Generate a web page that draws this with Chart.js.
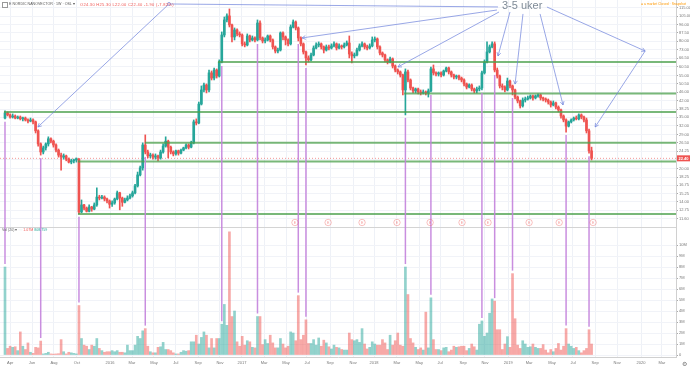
<!DOCTYPE html>
<html>
<head>
<meta charset="utf-8">
<script src="https://cdn.jsdelivr.net/npm/chart.js@4/dist/chart.umd.min.js"></script>
<style>
  html, body { margin: 0; padding: 0; background: #fff; }
  #wrap { position: relative; width: 690px; height: 369px; overflow: hidden; }
  canvas { display: block; }
  .t { position: absolute; font-family: "Liberation Sans", Arial, sans-serif; white-space: nowrap; line-height: 1; }
</style>
</head>
<body>
<div id="wrap">
  <canvas id="chart" width="690" height="369"></canvas>
  <div class="t" style="left:2px;top:2px;width:4px;height:4px;border:0.5px solid #999;"></div>
  <div class="t" id="hdr" style="left:9px;top:2.5px;font-size:3.6px;color:#555;">E NORDIC NANOVECTOR · 1W · OSL ▾</div>
  <div class="t" id="ohlc" style="left:80px;top:2.5px;font-size:4px;color:#ef5350;letter-spacing:0.3px;"></div>
  <div class="t" style="left:641px;top:3px;font-size:3.4px;color:#ff9800;">● a market Closed · Snapshot</div>
  <div class="t" style="left:502px;top:0px;font-size:11px;color:#7f8b97;">3-5 uker</div>
  <div class="t" style="left:2px;top:229px;font-size:3.6px;color:#666;">Vol (20) ▾ <span style="color:#bbb">▫▫▫</span> <span style="color:#ef5350">1.07M</span> <span style="color:#26a69a">808.759</span></div>
  <div class="t" style="left:682px;top:361px;font-size:6px;color:#777;">⚙</div>
</div>
<script>
// weekly candles, week 0 = late March 2015
const firstOpen = 34.7;
const closes = [
  36.7, 35.9, 35.1, 35.5, 34.7, 35.1, 34.4, 34.7, 34.0, 33.6,
  34.0, 33.3, 30.2, 26.2, 24.0, 25.1, 26.2, 27.7, 27.0, 25.9,
  24.5, 23.2, 22.7, 23.0, 22.2, 21.5, 21.8, 22.0, 22.3, 12.5,
  13.5, 13.05, 12.6, 13.2, 12.9, 13.5, 14.7, 14.55, 14.7, 14.4,
  14.1, 13.6, 13.8, 14.4, 15.4, 14.55, 13.9, 14.25, 14.55, 14.9,
  15.4, 16.6, 18.7, 20.2, 25.9, 24.0, 23.0, 23.2, 22.7, 23.0,
  22.5, 24.0, 25.6, 27.0, 25.3, 24.0, 23.5, 24.3, 23.7, 24.5,
  25.1, 25.9, 25.3, 26.5, 33.3, 32.9, 40.4, 47.1, 49.7, 47.1,
  56.7, 53.6, 58.5, 54.8, 63.8, 85.6, 100.8, 105.3, 95.5, 83.8,
  90.4, 86.6, 85.6, 77.7, 76.8, 84.7, 81.1, 82.9, 81.1, 97.5,
  82.9, 80.2, 81.1, 84.7, 81.1, 75.2, 71.9, 72.7, 87.5, 83.8,
  81.1, 77.7, 93.4, 98.6, 92.4, 82.9, 77.7, 71.2, 66.7, 65.3,
  68.9, 74.3, 76.8, 77.7, 75.2, 72.7, 75.2, 74.3, 76.0, 77.7,
  74.3, 76.0, 75.2, 76.8, 78.5, 69.6, 68.2, 68.9, 72.7, 76.0,
  77.7, 75.2, 74.3, 76.0, 81.1, 82.0, 75.2, 70.4, 68.9, 65.3,
  63.8, 66.0, 61.1, 58.5, 57.3, 55.4, 47.1, 57.3, 52.5, 48.1,
  46.6, 47.6, 46.1, 45.6, 46.1, 45.6, 46.6, 59.2, 56.7, 56.0,
  56.7, 55.4, 57.9, 59.8, 57.3, 55.4, 54.2, 54.8, 53.6, 52.5,
  50.3, 48.6, 49.7, 47.6, 46.6, 47.6, 48.1, 56.7, 63.8, 71.2,
  75.2, 77.7, 58.5, 54.8, 49.2, 48.6, 47.1, 51.9, 49.2, 47.1,
  43.6, 41.8, 39.6, 42.2, 42.7, 43.2, 44.1, 43.2, 44.1, 44.6,
  43.2, 42.7, 42.2, 41.3, 40.0, 40.9, 39.1, 37.9, 35.5, 34.0,
  31.8, 33.3, 34.0, 34.7, 34.4, 35.9, 35.1, 34.0, 30.2, 24.3,
  22.4
];
const highs = [
  37.5, 37.1, 36.3, 36.3, 35.9, 35.5, 35.5, 35.1, 35.1, 34.4,
  34.7, 34.4, 33.6, 30.5, 26.5, 25.6, 26.5, 28.3, 28.0, 27.3,
  26.2, 24.8, 23.7, 23.5, 23.2, 22.5, 22.2, 22.2, 22.5, 22.3,
  14.25, 13.6, 13.2, 13.5, 13.3, 13.8, 16.25, 15.0, 15.0, 14.9,
  14.55, 14.25, 14.1, 14.55, 15.7, 15.5, 14.7, 14.55, 14.9, 15.2,
  15.7, 16.9, 19.3, 20.6, 26.5, 28.9, 24.5, 23.7, 23.5, 23.5,
  23.2, 24.5, 26.2, 28.3, 27.3, 25.6, 24.3, 24.5, 24.5, 24.8,
  25.3, 26.2, 26.2, 27.0, 34.0, 34.4, 41.3, 49.2, 50.8, 50.3,
  58.5, 57.9, 59.8, 59.2, 65.3, 88.5, 104.1, 107.6, 113.6, 96.5,
  92.4, 91.4, 88.5, 86.6, 79.4, 86.6, 85.6, 84.7, 83.8, 100.8,
  99.7, 83.8, 82.9, 85.6, 85.6, 82.0, 76.0, 74.3, 88.5, 88.5,
  84.7, 82.0, 95.5, 100.8, 99.7, 93.4, 83.8, 78.5, 71.9, 68.2,
  70.4, 76.0, 78.5, 79.4, 78.5, 76.0, 76.8, 76.8, 77.7, 79.4,
  78.5, 77.7, 76.8, 78.5, 80.2, 84.7, 71.2, 70.4, 74.3, 77.7,
  79.4, 78.5, 76.8, 77.7, 83.8, 83.8, 82.9, 76.0, 71.2, 69.6,
  66.0, 67.4, 66.7, 61.8, 59.2, 57.9, 56.0, 59.2, 58.5, 53.1,
  48.6, 48.1, 48.1, 47.1, 47.1, 46.6, 47.6, 60.4, 61.8, 57.3,
  57.3, 57.3, 58.5, 60.4, 60.4, 57.9, 56.0, 55.4, 55.4, 54.2,
  53.1, 50.8, 50.3, 50.3, 48.1, 48.6, 49.2, 57.9, 65.3, 79.4,
  76.8, 79.4, 79.4, 59.8, 55.4, 50.3, 49.2, 53.6, 52.5, 49.7,
  47.6, 44.1, 42.2, 43.2, 43.6, 44.1, 44.6, 44.6, 44.6, 45.1,
  45.1, 43.6, 43.2, 42.7, 41.8, 41.8, 41.3, 39.6, 38.3, 35.9,
  34.4, 33.6, 34.4, 35.1, 35.5, 36.3, 36.3, 35.5, 34.7, 30.8,
  25.3
];
const lows = [
  34.4, 35.5, 34.7, 34.7, 34.4, 34.4, 34.0, 33.6, 33.6, 32.9,
  33.3, 32.6, 29.5, 25.6, 23.2, 23.5, 24.5, 25.6, 26.5, 25.3,
  24.0, 22.7, 19.7, 22.2, 21.8, 21.3, 21.1, 21.3, 21.5, 12.25,
  12.4, 12.8, 12.5, 12.5, 12.6, 12.8, 13.3, 14.25, 14.4, 14.1,
  13.8, 13.05, 13.3, 13.6, 14.25, 12.8, 13.3, 13.8, 14.1, 14.4,
  14.7, 15.2, 16.4, 18.5, 19.7, 23.5, 22.5, 22.5, 22.2, 22.2,
  21.8, 22.2, 23.7, 25.3, 22.5, 23.5, 23.0, 23.2, 23.2, 23.5,
  24.3, 24.8, 24.8, 25.1, 26.2, 32.2, 32.6, 40.0, 46.1, 45.6,
  46.1, 52.5, 52.5, 53.6, 54.2, 63.2, 83.8, 98.6, 93.4, 79.4,
  81.1, 84.7, 83.8, 76.0, 75.2, 76.0, 79.4, 80.2, 79.4, 80.2,
  81.1, 78.5, 78.5, 80.2, 79.4, 73.5, 70.4, 70.4, 71.9, 81.1,
  76.8, 76.0, 76.8, 92.4, 90.4, 80.2, 76.0, 69.6, 61.8, 63.8,
  64.5, 68.2, 73.5, 75.2, 73.5, 70.4, 71.9, 72.7, 73.5, 75.2,
  72.7, 73.5, 73.5, 74.3, 76.0, 66.7, 63.2, 66.7, 68.2, 71.9,
  75.2, 73.5, 72.7, 73.5, 75.2, 79.4, 73.5, 68.9, 67.4, 63.8,
  62.5, 63.2, 59.8, 57.3, 56.0, 54.2, 44.6, 35.9, 51.4, 47.1,
  45.6, 45.6, 45.1, 44.6, 45.1, 44.6, 43.6, 46.1, 55.4, 54.8,
  54.8, 54.2, 54.8, 57.3, 56.0, 54.2, 53.1, 53.1, 52.5, 51.4,
  49.2, 47.6, 48.1, 46.6, 45.6, 45.6, 46.6, 47.1, 56.0, 63.2,
  70.4, 74.3, 57.3, 53.6, 48.1, 47.1, 46.1, 46.6, 48.1, 44.6,
  42.7, 40.9, 38.7, 39.1, 41.3, 42.2, 42.7, 42.2, 42.7, 43.6,
  42.2, 41.8, 41.3, 40.4, 39.1, 39.6, 38.3, 37.1, 34.7, 33.3,
  29.8, 31.5, 32.9, 33.6, 34.0, 34.0, 34.4, 33.3, 29.5, 23.7,
  22.0
];
// volume, units of 100k shares
const volumes = [
  80, 6, 8, 7, 7.5, 4, 21, 8, 5, 11,
  2.5, 1.5, 7, 6.5, 12.7, 1, 1.5, 2.5, 1, 0.8,
  1, 1.2, 14, 3, 1, 2.5, 2, 1.5, 1, 45,
  15, 9, 8, 5, 9, 8, 15, 6, 4, 2.5,
  3, 3, 4, 3, 4, 2.5, 2.5, 2, 9, 4,
  4, 9, 17, 15, 22, 24, 8, 3, 2, 2,
  7, 7.5, 11.5, 5, 5, 4, 2, 1, 1, 2.5,
  4, 3.5, 4, 12, 12, 18, 10, 16, 21, 18,
  6.5, 15, 6.5, 15, 15, 28, 46, 27, 112, 35,
  40, 12, 8, 17, 9, 13, 12, 7, 6.5, 35,
  35, 9.5, 14, 10.5, 18, 11, 6.5, 6.5, 15, 10,
  6.5, 8, 21, 20, 13, 54, 14, 18, 32, 10.5,
  10.5, 14, 9, 15.5, 8, 13.5, 11, 7.5, 5.5, 9,
  7, 6.5, 5, 4.5, 4.5, 20, 14, 13, 14, 11.5,
  24, 10, 5.5, 7, 12, 10, 9, 9, 14, 11,
  5, 18, 9, 13, 20, 9, 8, 80, 55, 15,
  11, 7, 5, 6.5, 4.5, 39, 6.5, 52, 14, 5,
  5, 4, 6.5, 7, 3, 4.5, 8, 7, 7.5, 8,
  8, 4, 6, 10, 7.5, 4.5, 28, 31, 17, 20,
  38, 51, 49, 23, 23, 5, 10, 16.7, 7, 74,
  33, 9, 6, 13, 10, 7, 7.5, 10, 7, 6,
  6, 9.5, 4.5, 2, 5, 3, 6, 10.5, 4.5, 8,
  24, 10, 8, 6, 7, 4, 2, 4, 6, 23,
  10
];

const monthTicks = [2, 10.6, 19.2, 28.2, 41.2, 49.8, 58.4, 67, 75.7, 84.3, 92.9, 101.6, 110.2, 118.4, 127.5,
  136.5, 144.7, 153.7, 162.4, 170.6, 179.6, 188.2, 197.3, 205.5, 214.5, 222.7, 231.4, 240, 249.4, 257.6];
const monthLabels = ['Apr', 'Jun', 'Aug', 'Oct', '2016', 'Mar', 'May', 'Jul', 'Sep', 'Nov', '2017', 'Mar', 'May', 'Jul', 'Sep',
  'Nov', '2018', 'Mar', 'May', 'Jul', 'Sep', 'Nov', '2019', 'Mar', 'May', 'Jul', 'Sep', 'Nov', '2020', 'Mar'];
const priceTicks = [115, 105, 96, 87.5, 80, 73, 66.5, 60.5, 55, 50.5, 46, 42, 38.25, 35, 32, 29, 26.5, 24.25,
  22, 20, 18.25, 16.75, 15.25, 14, 12.75, 11.6];
const volumeTicks = [0, 10, 20, 30, 40, 50, 60, 70, 80, 90, 100];
const volumeTickLabels = ['0', '1M', '2M', '3M', '4M', '5M', '6M', '7M', '8M', '9M', '10M'];

// drawings: support / resistance levels (price, start week)
const levelPrices = [37.1, 63.8, 45.3, 26.5, 21.64, 12.23];
const levelStarts = [-0.4, 83.5, 156.5, 54.9, 28.6, 28.6];
// weeks linking a pivot candle to its volume bar
const pivotWeeks = [0, 14, 29, 55, 85, 99, 115, 118, 157, 167, 187, 192, 199, 220, 229];
// "3-5 uker" arrows as [week, price] points
const arrowPaths = [
  { pts: [[193.3, 116.1], [64.3, 119.9], [12.9, 31.5]], heads: [2], dots: [1] },
  { pts: [[192.9, 112.3], [116.5, 82.9]], heads: [1], dots: [] },
  { pts: [[193.7, 109.9], [154.1, 60.5]], heads: [1], dots: [] },
  { pts: [[198.0, 109.9], [193.3, 68.1]], heads: [1], dots: [] },
  { pts: [[203.1, 107.6], [200.0, 50.2]], heads: [1], dots: [] },
  { pts: [[209.8, 107.6], [218.8, 40.0]], heads: [1], dots: [] },
  { pts: [[212.5, 116.0], [251.0, 71.9], [231.4, 31.5]], heads: [1, 2], dots: [] }
];
const earningsWeeks = [113.7, 126.7, 140, 153.7, 166.7, 179.2, 189.4, 205.5, 217.3, 230.6];

const UP = '#26a69a';
const DOWN = '#ef5350';
const UP_VOL = 'rgba(38,166,154,0.5)';
const DOWN_VOL = 'rgba(239,83,80,0.5)';

const weeks = closes.map((_, i) => i);
const opens = closes.map((c, i) => (i === 0 ? firstOpen : closes[i - 1]));
const isUp = closes.map((c, i) => c >= opens[i]);
const wickLow = lows.map((l, i) => Math.min(l, opens[i], closes[i]));
const wickHigh = highs.map((h, i) => Math.max(h, opens[i], closes[i]));

const last = closes.length - 1;
const chg = closes[last] - closes[last - 1];
document.getElementById('ohlc').textContent =
  'O' + opens[last].toFixed(2) + ' H' + wickHigh[last].toFixed(2) + ' L' + wickLow[last].toFixed(2) +
  ' C' + closes[last].toFixed(2) + ' ' + chg.toFixed(2) + ' (' + (chg / closes[last - 1] * 100).toFixed(2) + '%)';

function arrowHead(ctx, x0, y0, x1, y1) {
  const a = Math.atan2(y1 - y0, x1 - x0);
  const len = 4;
  ctx.beginPath();
  ctx.moveTo(x1 - len * Math.cos(a - 0.5), y1 - len * Math.sin(a - 0.5));
  ctx.lineTo(x1, y1);
  ctx.lineTo(x1 - len * Math.cos(a + 0.5), y1 - len * Math.sin(a + 0.5));
  ctx.stroke();
}

// keep the panes flush with the canvas edges
function fitRightAxis(s) {
  s.width = 14;
  s.paddingTop = 0;
  s.paddingBottom = 0;
}

const drawings = {
  id: 'drawings',
  beforeDatasetsDraw(chart) {
    const { ctx, chartArea } = chart;
    const { y, yv } = chart.scales;
    ctx.save();
    ctx.strokeStyle = '#d4d4d4';
    ctx.lineWidth = 1;
    const sy = Math.round(yv.top) + 0.5;
    ctx.beginPath();
    ctx.moveTo(chartArea.left, sy);
    ctx.lineTo(chartArea.right, sy);
    ctx.stroke();
    const py = y.getPixelForValue(closes[last]);
    ctx.setLineDash([1, 2]);
    ctx.strokeStyle = 'rgba(239,83,80,0.6)';
    ctx.beginPath();
    ctx.moveTo(chartArea.left, py);
    ctx.lineTo(chartArea.right, py);
    ctx.stroke();
    ctx.restore();
  },
  afterDatasetsDraw(chart) {
    const { ctx, chartArea } = chart;
    const { x, y, yv } = chart.scales;
    ctx.save();

    // levels
    ctx.strokeStyle = 'rgba(76,160,76,0.75)';
    ctx.lineWidth = 2;
    levelPrices.forEach((p, i) => {
      const py = y.getPixelForValue(p);
      ctx.beginPath();
      ctx.moveTo(x.getPixelForValue(levelStarts[i]), py);
      ctx.lineTo(chartArea.right, py);
      ctx.stroke();
    });

    // pivot -> volume links
    ctx.strokeStyle = 'rgba(195,130,220,0.9)';
    ctx.lineWidth = 1.5;
    pivotWeeks.forEach(w => {
      const px = x.getPixelForValue(w);
      ctx.beginPath();
      ctx.moveTo(px, y.getPixelForValue(wickLow[w]) + 3);
      ctx.lineTo(px, yv.getPixelForValue(volumes[w]) - 3);
      ctx.stroke();
    });

    // arrows
    ctx.strokeStyle = 'rgba(110,130,220,0.7)';
    ctx.lineWidth = 1;
    arrowPaths.forEach(path => {
      const pts = path.pts.map(([w, p]) => [x.getPixelForValue(w), y.getPixelForValue(p)]);
      ctx.beginPath();
      pts.forEach(([px, py], i) => (i ? ctx.lineTo(px, py) : ctx.moveTo(px, py)));
      ctx.stroke();
      path.heads.forEach(i => arrowHead(ctx, pts[i - 1][0], pts[i - 1][1], pts[i][0], pts[i][1]));
      path.dots.forEach(i => {
        ctx.beginPath();
        ctx.arc(pts[i][0], pts[i][1], 1.5, 0, Math.PI * 2);
        ctx.fillStyle = '#fff';
        ctx.fill();
        ctx.stroke();
      });
    });

    // earnings markers
    ctx.strokeStyle = 'rgba(239,83,80,0.45)';
    ctx.fillStyle = 'rgba(239,83,80,0.6)';
    ctx.lineWidth = 0.8;
    ctx.font = '3.5px "Liberation Sans"';
    ctx.textAlign = 'center';
    ctx.textBaseline = 'middle';
    earningsWeeks.forEach(w => {
      const px = x.getPixelForValue(w);
      const py = y.bottom - 4.5;
      ctx.beginPath();
      ctx.arc(px, py, 3.2, 0, Math.PI * 2);
      ctx.stroke();
      ctx.fillText('E', px, py + 0.2);
    });
    ctx.restore();
  },
  afterDraw(chart) {
    const { ctx, chartArea } = chart;
    const { y } = chart.scales;
    const py = y.getPixelForValue(closes[last]);
    ctx.save();
    ctx.fillStyle = DOWN;
    ctx.fillRect(chartArea.right + 1, py - 3, 14, 6);
    ctx.fillStyle = '#fff';
    ctx.font = 'bold 4px "Liberation Sans"';
    ctx.textBaseline = 'middle';
    ctx.fillText(closes[last].toFixed(2), chartArea.right + 2.5, py + 0.3);
    ctx.restore();
  }
};

const tickFont = { family: 'Liberation Sans', size: 4 };

new Chart(document.getElementById('chart'), {
  type: 'bar',
  data: {
    datasets: [
      {
        label: 'wick',
        data: weeks.map(i => ({ x: i, y: [wickLow[i], wickHigh[i]] })),
        backgroundColor: weeks.map(i => (isUp[i] ? UP : DOWN)),
        barThickness: 1,
        grouped: false,
        yAxisID: 'y',
        order: 2
      },
      {
        label: 'body',
        data: weeks.map(i => ({ x: i, y: [opens[i], closes[i]] })),
        backgroundColor: weeks.map(i => (isUp[i] ? UP : DOWN)),
        barThickness: 2,
        minBarLength: 1,
        grouped: false,
        yAxisID: 'y',
        order: 1
      },
      {
        label: 'volume',
        data: weeks.map(i => ({ x: i, y: volumes[i] })),
        backgroundColor: weeks.map(i => (isUp[i] ? UP_VOL : DOWN_VOL)),
        barThickness: 2,
        grouped: false,
        yAxisID: 'yv',
        order: 3
      }
    ]
  },
  options: {
    responsive: false,
    animation: false,
    layout: { padding: 0 },
    plugins: { legend: { display: false }, tooltip: { enabled: false } },
    scales: {
      x: {
        type: 'linear',
        offset: false,
        min: -1.96,
        max: 263.1,
        afterBuildTicks: s => { s.ticks = monthTicks.map(v => ({ value: v })); },
        afterFit: s => { s.height = 12; s.paddingLeft = 0; s.paddingRight = 0; },
        ticks: {
          autoSkip: false,
          maxRotation: 0,
          padding: 3,
          font: tickFont,
          color: '#777',
          callback: (v, i) => monthLabels[i]
        },
        grid: { offset: false, color: '#eef1f7', tickLength: 0 },
        border: { color: '#d0d0d0' }
      },
      y: {
        type: 'logarithmic',
        position: 'right',
        stack: 'panes',
        stackWeight: 227,
        min: 10.62,
        max: 125.2,
        afterBuildTicks: s => { s.ticks = priceTicks.map(v => ({ value: v })); },
        afterFit: fitRightAxis,
        ticks: {
          autoSkip: false,
          padding: 1,
          font: tickFont,
          color: '#777',
          callback: v => Number(v).toFixed(2)
        },
        grid: { color: '#f1f3f8', tickLength: 2, tickColor: '#aaa' },
        border: { color: '#d0d0d0' }
      },
      yv: {
        type: 'linear',
        position: 'right',
        stack: 'panes',
        stackWeight: 130,
        min: -1.8,
        max: 116.4,
        afterBuildTicks: s => { s.ticks = volumeTicks.map(v => ({ value: v })); },
        afterFit: fitRightAxis,
        ticks: {
          autoSkip: false,
          padding: 1,
          font: tickFont,
          color: '#777',
          callback: (v, i) => volumeTickLabels[i]
        },
        grid: { color: '#f1f3f8', tickLength: 2, tickColor: '#aaa' },
        border: { color: '#d0d0d0' }
      }
    }
  },
  plugins: [drawings]
});
</script>
</body>
</html>
